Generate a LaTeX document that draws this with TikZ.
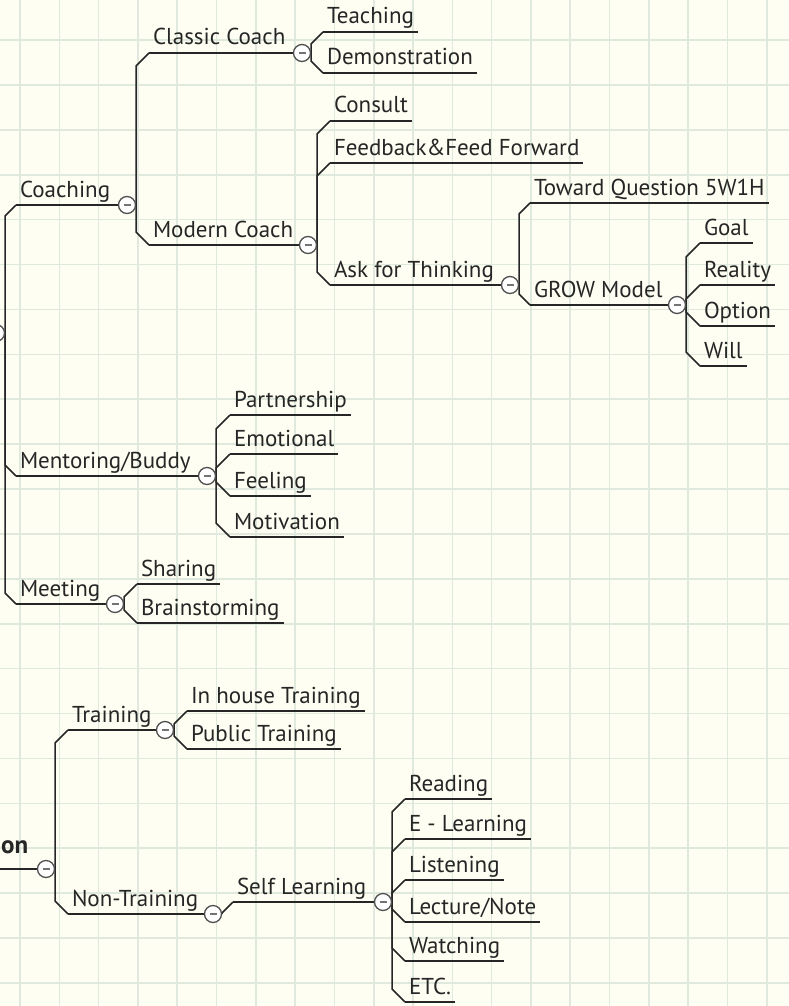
\documentclass[tikz,border=0pt]{standalone}
\usepackage{fontspec}
\setmainfont{PT Sans}
\usepackage{tikz}
\usetikzlibrary{calc}

\definecolor{paper}{HTML}{FEFEF2}
\definecolor{gridcol}{HTML}{DFE9DD}
\definecolor{ink}{HTML}{262626}
\definecolor{knobrim}{HTML}{505050}

\pgfdeclarelayer{back}
\pgfsetlayers{back,main}

\tikzset{
  branch/.style={ink, line width=1.6pt},
  topic/.style={anchor=south west, inner xsep=4pt, inner ysep=0pt, outer sep=0pt,
    text height=16pt, text depth=8pt, text=ink, font=\fontsize{23}{25}\selectfont},
  knob/.style={circle, draw=knobrim, line width=1.3pt, fill=white, inner sep=0pt,
    minimum size=17pt, path picture={\draw[line width=2pt, black!55]
      ([xshift=-3.5pt]path picture bounding box.center) --
      ([xshift=3.5pt]path picture bounding box.center);}},
}

% trunk from a knob to the underline of a sub-topic (1 = above, -1 = below)
\newcommand{\fork}[3]{%
  \draw[branch] let \p1=(#1.east), \p2=(#2.south west) in
    (\p1) -- (\x1,{\y2+(#3)*(\x1-\x2)}) -- (\p2);}

\begin{document}
\begin{tikzpicture}[x=1pt, y=-1pt]

\useasboundingbox (0,0) rectangle (789,1006);

% Paper and grid
\begin{pgfonlayer}{back}
\fill[paper] (0,0) rectangle (789,1006);
\foreach \i in {0,...,19}
  \draw[gridcol, line width=1.6pt] ({20+39.3*\i},0) -- ({20+39.3*\i},1006);
\foreach \j in {0,...,21}
  \draw[gridcol, line width=1.6pt] (0,{40+44.9*\j}) -- (789,{40+44.9*\j});
\end{pgfonlayer}

% Upper root (off the page)
\node[knob] (upper-knob) at (-4,333) {};

% Coaching
\node[topic] (coaching) at (16,205) {Coaching};
\node[knob] (coaching-knob) at (127,205) {};
\node[topic] (classic) at (149,53) {Classic Coach};
\node[knob] (classic-knob) at (302,53) {};
\node[topic] (teaching) at (323,32) {Teaching};
\node[topic] (demo) at (323,73) {Demonstration};
\node[topic] (modern) at (149,245) {Modern Coach};
\node[knob] (modern-knob) at (308,245) {};
\node[topic] (consult) at (330,121) {Consult};
\node[topic] (feedback) at (330,163) {Feedback\&Feed Forward};
\node[topic] (ask) at (330,285) {Ask for Thinking};
\node[knob] (ask-knob) at (510,285) {};
\node[topic] (toward) at (530,203) {Toward Question 5W1H};
\node[topic] (grow) at (530,305) {GROW Model};
\node[knob] (grow-knob) at (677,305) {};
\node[topic] (goal) at (700,243) {Goal};
\node[topic] (reality) at (700,285) {Reality};
\node[topic] (option) at (700,326) {Option};
\node[topic] (will) at (700,366) {Will};

% Mentoring
\node[topic] (mentor) at (16,476) {Mentoring/Buddy};
\node[knob] (mentor-knob) at (207,476) {};
\node[topic] (partner) at (230,415) {Partnership};
\node[topic] (emotion) at (230,454) {Emotional};
\node[topic] (feeling) at (230,496) {Feeling};
\node[topic] (motiv) at (230,537) {Motivation};

% Meeting
\node[topic] (meeting) at (16,604) {Meeting};
\node[knob] (meeting-knob) at (115,604) {};
\node[topic] (sharing) at (137,584) {Sharing};
\node[topic] (brain) at (137,623) {Brainstorming};

% Lower root
\node[anchor=base west, inner sep=0pt, text=ink, font=\fontsize{25}{27}\bfseries\selectfont]
  (lowerroot) at (1,853) {on};
\node[knob] (lower-knob) at (46,869) {};

% Training
\node[topic] (training) at (68,730) {Training};
\node[knob] (training-knob) at (165,730) {};
\node[topic] (inhouse) at (187,711) {In house Training};
\node[topic] (public) at (187,749) {Public Training};

% Non-Training
\node[topic] (nontrain) at (68,914) {Non-Training};
\node[knob] (nontrain-knob) at (213,914) {};
\node[topic] (self) at (233,902) {Self Learning};
\node[knob] (self-knob) at (383,902) {};
\node[topic] (reading) at (405,799) {Reading};
\node[topic] (elearn) at (405,839) {E - Learning};
\node[topic] (listen) at (405,880) {Listening};
\node[topic] (lecture) at (405,922) {Lecture/Note};
\node[topic] (watch) at (405,961) {Watching};
\node[topic] (etc) at (405,1002) {ETC.};

% Underlines and trunks
\begin{pgfonlayer}{back}
\foreach \n in {teaching, demo, consult, feedback, toward, goal, reality, option, will,
    partner, emotion, feeling, motiv, sharing, brain, inhouse, public,
    reading, elearn, listen, lecture, watch, etc}
  \draw[branch] (\n.south west) -- (\n.south east);
\foreach \n in {coaching, classic, modern, ask, grow, mentor, meeting,
    training, nontrain, self}
  \draw[branch] (\n.south west) -- (\n-knob.west);
\draw[branch] ([xshift=-2pt]lowerroot.west |- lower-knob) -- (lower-knob.west);

\foreach \mom/\kid/\way in {upper-knob/coaching/1, upper-knob/mentor/-1, upper-knob/meeting/-1,
    coaching-knob/classic/1, coaching-knob/modern/-1,
    classic-knob/teaching/1, classic-knob/demo/-1,
    modern-knob/consult/1, modern-knob/feedback/1, modern-knob/ask/-1,
    ask-knob/toward/1, ask-knob/grow/-1,
    grow-knob/goal/1, grow-knob/reality/1, grow-knob/option/-1, grow-knob/will/-1,
    mentor-knob/partner/1, mentor-knob/emotion/1, mentor-knob/feeling/-1, mentor-knob/motiv/-1,
    meeting-knob/sharing/1, meeting-knob/brain/-1,
    lower-knob/training/1, lower-knob/nontrain/-1,
    training-knob/inhouse/1, training-knob/public/-1,
    nontrain-knob/self/1,
    self-knob/reading/1, self-knob/elearn/1, self-knob/listen/1,
    self-knob/lecture/-1, self-knob/watch/-1, self-knob/etc/-1}
  {\fork{\mom}{\kid}{\way}}
\end{pgfonlayer}

\end{tikzpicture}
\end{document}
